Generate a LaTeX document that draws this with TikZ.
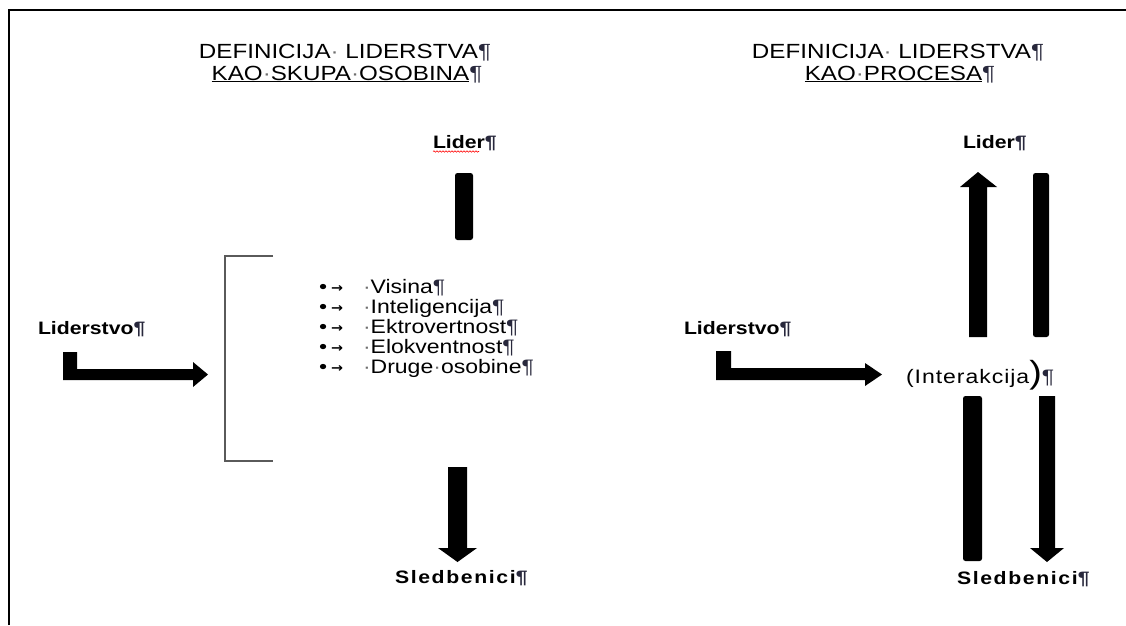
\documentclass[tikz,border=0pt]{standalone}
\usepackage{fontspec}
\setmainfont{Liberation Sans}[FakeStretch=1.18]
\newfontfamily\djv{DejaVu Sans}[FakeStretch=1.1]
\usetikzlibrary{decorations.pathmorphing}
\definecolor{pilc}{RGB}{40,40,60}
\definecolor{dotc}{RGB}{110,110,110}
\definecolor{brk}{RGB}{90,90,90}
\newcommand{\pil}{{\color{pilc}¶}}
\newcommand{\md}{{\color{dotc}·}}
\newcommand{\ttl}{\fontsize{20.5}{24}\selectfont}
\newcommand{\lab}{\fontsize{18}{21}\selectfont\bfseries}
\newcommand{\lst}{\fontsize{19.5}{22}\selectfont}
\begin{document}
\begin{tikzpicture}[x=1pt,y=-1pt,
  lbl/.style={inner sep=0pt, outer sep=0pt},
  barbox/.style={fill=black, rounded corners=2.5pt, inner sep=0pt, outer sep=0pt},
  blk/.style={fill=black},
  brack/.style={draw=brk, line width=1.5pt},
  frame/.style={line width=2pt}]
\useasboundingbox (0,0) rectangle (1126,625);
\draw[frame] (9,625) -- (9,10) -- (1126,10);

% titles
\node[lbl, anchor=base] (t1a) at (345,58) {\ttl DEFINICIJA\md\ LIDERSTVA\pil};
\node[lbl, anchor=base] (t1b) at (347,80) {\ttl \underline{KAO\md SKUPA\md OSOBINA}\pil};
\node[lbl, anchor=base] (t2a) at (898,58) {\ttl DEFINICIJA\md\ LIDERSTVA\pil};
\node[lbl, anchor=base] (t2b) at (900,80) {\ttl \underline{KAO\md PROCESA}\pil};

% ---------- left diagram ----------
\node[lbl, anchor=base west] (lider1) at (433,148) {\lab Lider\pil};
\draw[red, line width=0.6pt, decorate, decoration={snake, amplitude=0.7pt, segment length=3pt}]
  ([yshift=-3.5pt]lider1.base west) -- ++(46,0);
\node[barbox, minimum width=18pt, minimum height=67pt] (bar1) at (464,206.5) {};

\draw[brack] (273,256) -- (225,256) -- (225,461) -- (273,461);

\foreach \t [count=\i from 0] in {Visina, Inteligencija, Ektrovertnost, Elokventnost, Druge\md osobine} {
  \node[lbl, anchor=base west] (bu\i) at (319,293+20*\i) {\lst •};
  \node[lbl, anchor=base west] (ar\i) at (331,292+20*\i) {\djv\bfseries\fontsize{13}{14}\selectfont →};
  \node[lbl, anchor=base west] (it\i) at (363,293+20*\i) {\lst \md\t\pil};
}

\node[lbl, anchor=base west] (ls1) at (38,334) {\lab Liderstvo\pil};
\fill[blk] (63,352) -- (77,352) -- (77,369) -- (193,369) -- (193,362) -- (208,374.5)
  -- (193,387) -- (193,380) -- (63,380) -- cycle;

\fill[blk] (448,467) -- (467,467) -- (467,548) -- (477,548) -- (457.5,562)
  -- (438,548) -- (448,548) -- cycle;
\node[lbl, anchor=base west] (sl1) at (395,583) {\lab\addfontfeature{LetterSpace=9}Sledbenici\pil};

% ---------- right diagram ----------
\node[lbl, anchor=base west] (lider2) at (963,148) {\lab Lider\pil};
\fill[blk] (969,337) -- (969,187) -- (960,187) -- (978,172) -- (997,187)
  -- (987,187) -- (987,337) -- cycle;
\node[barbox, minimum width=16pt, minimum height=164pt] (bar2) at (1041,255) {};

\node[lbl, anchor=base west] (ls2) at (684,334) {\lab Liderstvo\pil};
\fill[blk] (716,351) -- (731,351) -- (731,368) -- (865,368) -- (865,363) -- (882,374.5)
  -- (865,386) -- (865,380) -- (716,380) -- cycle;

\node[lbl, anchor=base west] (int) at (906,383)
  {\lst\addfontfeature{LetterSpace=5}(Interakcija{\fontsize{32}{32}\selectfont)}\pil};

\node[barbox, minimum width=19pt, minimum height=165pt] (bar3) at (972.5,478.5) {};
\fill[blk] (1039,396) -- (1055,396) -- (1055,548) -- (1064,548) -- (1047,562)
  -- (1030,548) -- (1039,548) -- cycle;
\node[lbl, anchor=base west] (sl2) at (957,584) {\lab\addfontfeature{LetterSpace=9}Sledbenici\pil};
\end{tikzpicture}
\end{document}
